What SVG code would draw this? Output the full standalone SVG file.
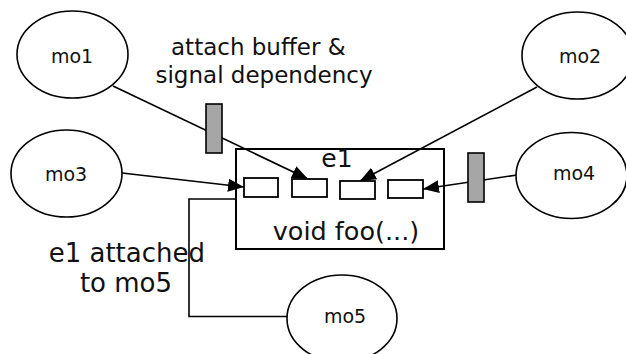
<svg xmlns="http://www.w3.org/2000/svg" width="626" height="354" viewBox="0 0 626 354">
  <defs>
    <marker id="arrow" viewBox="0 0 16 13" refX="16" refY="6.5" markerWidth="16" markerHeight="13" markerUnits="userSpaceOnUse" orient="auto">
      <path d="M0,0 L16,6.5 L0,13 Z" fill="#000"/>
    </marker>
    <style>
      .node ellipse { fill: #fff; stroke: #000; stroke-width: 1.6; }
      .label { font-family: "DejaVu Sans", sans-serif; fill: #111; }
      .mo { font-size: 19px; text-anchor: middle; }
      .conn { fill: none; stroke: #000; stroke-width: 1.6; }
      .port { fill: #fff; stroke: #000; stroke-width: 1.8; }
      .buf { fill: #a6a6a6; stroke: #000; stroke-width: 1.6; }
    </style>
  </defs>
  <rect width="626" height="354" fill="#fff"/>

  <!-- connectors -->
  <g id="connectors">
    <line class="conn" x1="113" y1="86" x2="308" y2="179" marker-end="url(#arrow)"/>
    <line class="conn" x1="537" y1="87" x2="360" y2="181" marker-end="url(#arrow)"/>
    <line class="conn" x1="122" y1="173" x2="244" y2="187" marker-end="url(#arrow)"/>
    <line class="conn" x1="517" y1="175" x2="423" y2="189" marker-end="url(#arrow)"/>
    <polyline class="conn" points="236,199 189,199 189,316.5 287,316.5"/>
  </g>

  <!-- buffers on the connectors -->
  <g id="buffer1"><rect class="buf" x="206" y="104" width="16" height="49"/></g>
  <g id="buffer2"><rect class="buf" x="468" y="153" width="16" height="49"/></g>

  <!-- executable e1 with its ports -->
  <g id="e1">
    <rect x="236" y="149" width="208" height="100" fill="none" stroke="#000" stroke-width="2"/>
    <text class="label" x="337" y="167" font-size="25" text-anchor="middle">e1</text>
    <rect class="port" x="244" y="178" width="34" height="19"/>
    <rect class="port" x="292" y="179" width="35" height="18"/>
    <rect class="port" x="340" y="181" width="35" height="18"/>
    <rect class="port" x="388" y="180" width="35" height="18"/>
    <text class="label" x="346" y="240" font-size="25.5" text-anchor="middle">void foo(...)</text>
  </g>

  <g id="mo1" class="node">
    <ellipse cx="72.5" cy="54.5" rx="55.5" ry="43.5"/>
    <text class="label mo" x="72" y="63">mo1</text>
  </g>
  <g id="mo2" class="node">
    <ellipse cx="577.5" cy="55.5" rx="55.5" ry="43.5"/>
    <text class="label mo" x="580" y="63">mo2</text>
  </g>
  <g id="mo3" class="node">
    <ellipse cx="66.5" cy="173.5" rx="55.5" ry="43.5"/>
    <text class="label mo" x="66" y="181">mo3</text>
  </g>
  <g id="mo4" class="node">
    <ellipse cx="571.5" cy="175.5" rx="55.5" ry="43" />
    <text class="label mo" x="574" y="180">mo4</text>
  </g>
  <g id="mo5" class="node">
    <ellipse cx="342" cy="318.5" rx="55" ry="43.5"/>
    <text class="label mo" x="345" y="323">mo5</text>
  </g>

  <!-- annotations -->
  <g id="note-buffer">
    <text class="label" font-size="23" text-anchor="middle">
      <tspan x="262" y="55">attach buffer &amp;</tspan>
      <tspan x="264" y="83">signal dependency</tspan>
    </text>
  </g>
  <g id="note-attach">
    <text class="label" font-size="26" text-anchor="middle">
      <tspan x="131" y="262">e1 attached</tspan>
      <tspan x="126" y="292">to mo5</tspan>
    </text>
  </g>
</svg>
